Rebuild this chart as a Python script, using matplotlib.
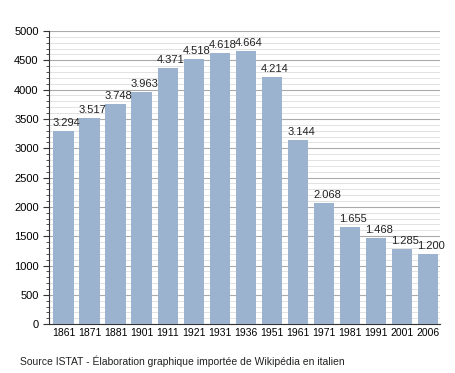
import matplotlib
matplotlib.use("Agg")
import matplotlib.pyplot as plt
from matplotlib.ticker import MultipleLocator

years = ["1861", "1871", "1881", "1901", "1911", "1921", "1931", "1936",
         "1951", "1961", "1971", "1981", "1991", "2001", "2006"]
population = [3294, 3517, 3748, 3963, 4371, 4518, 4618, 4664,
              4214, 3144, 2068, 1655, 1468, 1285, 1200]
labels = ["3.294", "3.517", "3.748", "3.963", "4.371", "4.518", "4.618", "4.664",
          "4.214", "3.144", "2.068", "1.655", "1.468", "1.285", "1.200"]

plt.rcParams['font.family'] = ['Liberation Sans', 'DejaVu Sans']

fig = plt.figure(figsize=(4.55, 3.73), dpi=100)
ax = fig.add_axes([0.108, 0.131, 0.859, 0.786])

x = list(range(len(years)))
width = 0.78
ax.bar(x, population, width=width, color="#9bb3cf", zorder=3)

for xi, v, lab in zip(x, population, labels):
    ax.text(xi - width / 2 - 0.02, v + 50, lab, ha="left", va="bottom",
            fontsize=8, color="#222222", zorder=4)

ax.set_xlim(-0.55, len(years) - 0.55)
ax.set_ylim(0, 5000)
ax.set_xticks(x)
ax.set_xticklabels(years, fontsize=7.5)
ax.yaxis.set_major_locator(MultipleLocator(500))
ax.yaxis.set_minor_locator(MultipleLocator(100))
ax.tick_params(axis="y", labelsize=8, which="major", length=4, color="#333333")
ax.tick_params(axis="y", which="minor", length=2, color="#333333")
ax.tick_params(axis="x", length=0, pad=3)

ax.grid(True, axis="y", which="major", color="#aaaaaa", linewidth=0.8, zorder=0)
ax.grid(True, axis="y", which="minor", color="#dddddd", linewidth=0.6, zorder=0)

for s in ["top", "right"]:
    ax.spines[s].set_visible(False)
ax.spines["left"].set_color("#333333")
ax.spines["bottom"].set_color("#333333")

fig.text(20 / 455, 1 - 361 / 373,
         "Source ISTAT - Élaboration graphique importée de Wikipédia en italien",
         fontsize=7.5, ha="left", va="center", color="#222222")

fig.savefig("out.png", dpi=100)
